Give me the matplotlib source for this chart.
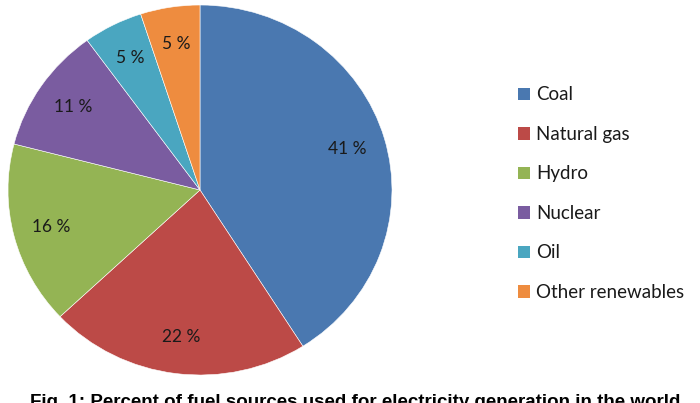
import math

import matplotlib
matplotlib.use("Agg")
import matplotlib.pyplot as plt

sources = ["Coal", "Natural gas", "Hydro", "Nuclear", "Oil", "Other renewables"]
shares = [41, 22, 16, 11, 5, 5]
colors = ["#4A78B0", "#BC4A47", "#94B454", "#7A5CA0", "#4AA6C0", "#EE8C3F"]
caption = "Fig. 1: Percent of fuel sources used for electricity generation in the world"

W, H = 700, 403
fig = plt.figure(figsize=(W / 100, H / 100), dpi=100)
fig.patch.set_facecolor("white")

# pie area in pixels: centre (200, 190), radii 192 x 185
cx, cy, rx, ry = 200, 190, 192, 185
ax = fig.add_axes([(cx - rx) / W, 1 - (cy + ry) / H, 2 * rx / W, 2 * ry / H])

wedges, texts = ax.pie(
    shares,
    colors=colors,
    startangle=90,
    counterclock=False,
    radius=1.0,
    wedgeprops=dict(edgecolor="white", linewidth=0.4),
)
for w, v in zip(wedges, shares):
    ang = math.radians((w.theta1 + w.theta2) / 2)
    r = 0.8
    ax.text(r * math.cos(ang), r * math.sin(ang), f"{v} %", ha="center", va="center",
            fontsize=12.5, family="Lato", color="#1a1a1a")
ax.set_aspect("auto")
ax.set_xlim(-1, 1)
ax.set_ylim(-1, 1)

leg = fig.legend(
    wedges, sources,
    loc="upper left",
    bbox_to_anchor=(510 / W, 1 - 79 / H),
    frameon=False,
    prop=dict(family="Lato", size=13.5),
    labelspacing=1.2,
    handlelength=0.65,
    handleheight=0.65,
    handletextpad=0.35,
    borderaxespad=0,
)
for t in leg.get_texts():
    t.set_color("#1a1a1a")
for h in leg.legend_handles:
    h.set_edgecolor("none")

fig.text(30 / W, 1 - 394 / H, caption, ha="left", va="top",
         fontsize=13.5, family="Liberation Sans", fontweight="bold", color="black")

fig.savefig("out.png", dpi=100, facecolor="white")
